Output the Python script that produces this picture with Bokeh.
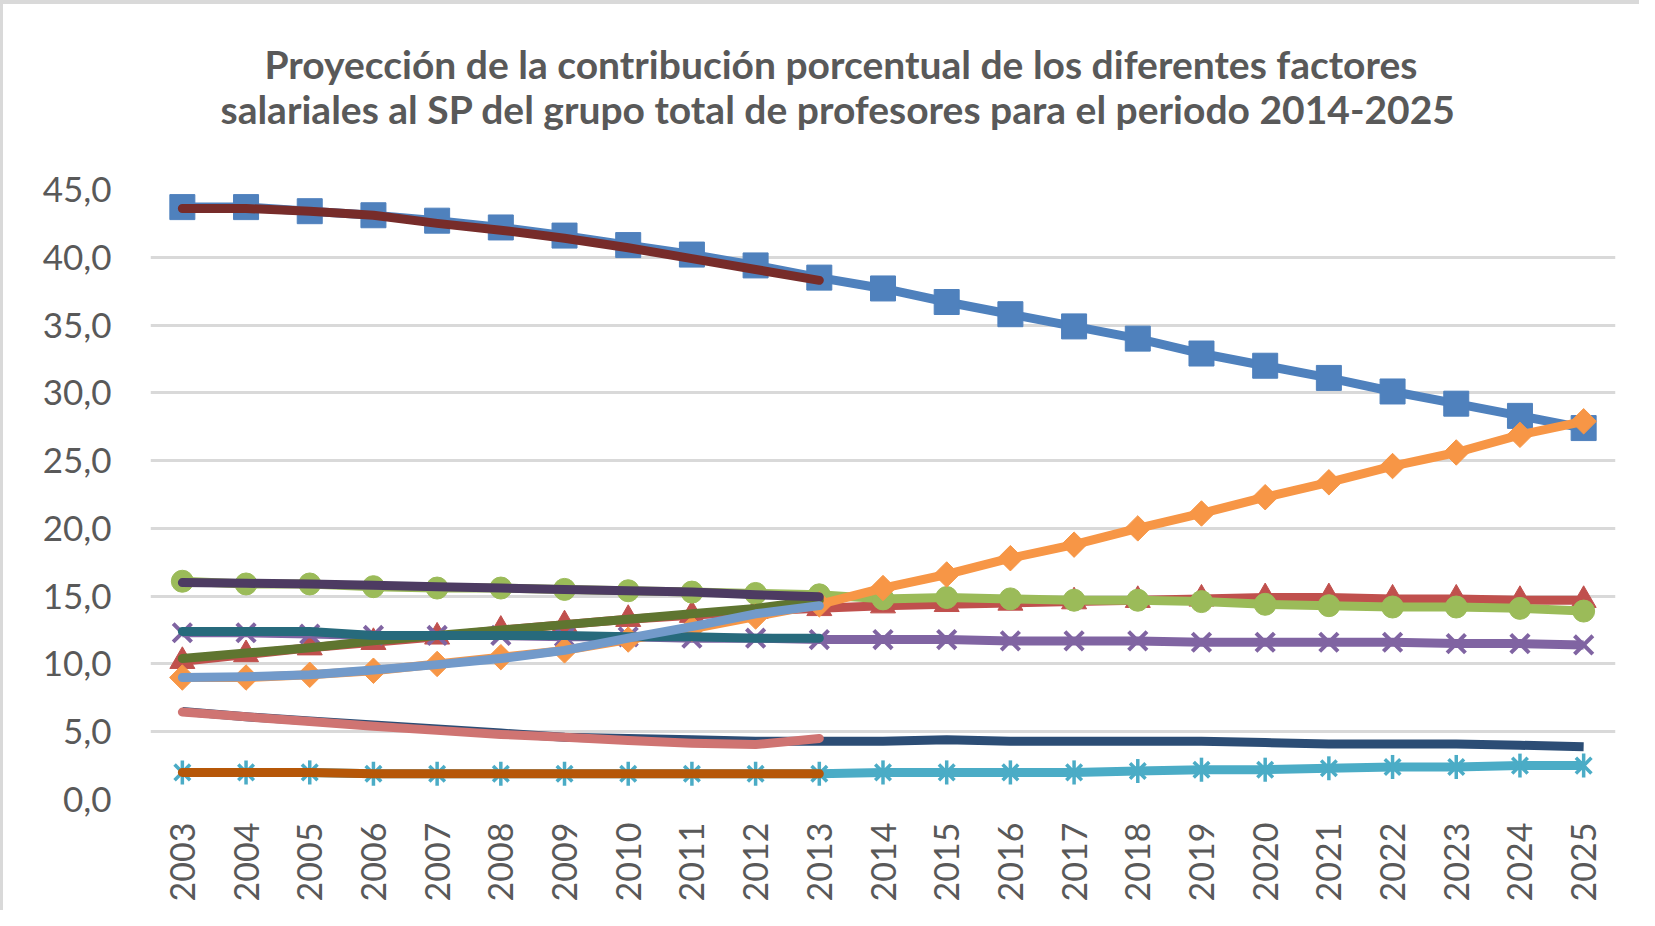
from math import pi
from bokeh.plotting import figure
from bokeh.models import FixedTicker, Title
from bokeh.embed import file_html
from bokeh.resources import INLINE

# ---------------- data ----------------
years = list(range(2003, 2026))
hist_years = list(range(2003, 2014))

y_ticks = [0, 5, 10, 15, 20, 25, 30, 35, 40, 45]
y_tick_labels = ["0,0", "5,0", "10,0", "15,0", "20,0", "25,0", "30,0", "35,0", "40,0", "45,0"]
x_tick_labels = [str(y) for y in years]

title_line1 = "Proyección de la contribución porcentual de los diferentes factores"
title_line2 = "salariales al SP del grupo total de profesores para el periodo 2014-2025"

# projected series (2003-2025)
proj_blue_sq = [43.7, 43.7, 43.4, 43.1, 42.7, 42.2, 41.6, 40.9, 40.2, 39.4, 38.5,
                37.7, 36.7, 35.8, 34.9, 34.0, 32.9, 32.0, 31.1, 30.1, 29.2, 28.3, 27.4]
proj_red_tri = [10.2, 10.7, 11.2, 11.6, 12.0, 12.5, 12.9, 13.3, 13.6, 13.9, 14.1,
                14.3, 14.4, 14.5, 14.6, 14.7, 14.8, 14.9, 14.9, 14.8, 14.8, 14.7, 14.7]
proj_green_circ = [16.1, 15.9, 15.9, 15.7, 15.6, 15.6, 15.5, 15.4, 15.3, 15.2, 15.1,
                   14.8, 14.9, 14.8, 14.7, 14.7, 14.6, 14.4, 14.3, 14.2, 14.2, 14.1, 13.9]
proj_purple_x = [12.3, 12.3, 12.2, 12.1, 12.1, 12.1, 12.0, 12.0, 11.9, 11.9, 11.8,
                 11.8, 11.8, 11.7, 11.7, 11.7, 11.6, 11.6, 11.6, 11.6, 11.5, 11.5, 11.4]
proj_cyan_star = [2.0, 2.0, 2.0, 1.9, 1.9, 1.9, 1.9, 1.9, 1.9, 1.9, 1.9,
                  2.0, 2.0, 2.0, 2.0, 2.1, 2.2, 2.2, 2.3, 2.4, 2.4, 2.5, 2.5]
proj_orange_dia = [9.0, 9.0, 9.2, 9.5, 10.0, 10.5, 11.0, 11.8, 12.6, 13.5, 14.4,
                   15.6, 16.6, 17.8, 18.8, 20.0, 21.1, 22.3, 23.4, 24.6, 25.6, 26.9, 27.9]
proj_navy = [6.5, 6.1, 5.8, 5.5, 5.2, 4.9, 4.6, 4.5, 4.4, 4.3, 4.3,
             4.3, 4.4, 4.3, 4.3, 4.3, 4.3, 4.2, 4.1, 4.1, 4.1, 4.0, 3.9]

# historical series (2003-2013)
hist_darkred = [43.6, 43.6, 43.4, 43.1, 42.5, 42.0, 41.4, 40.7, 39.9, 39.1, 38.3]
hist_olive = [10.4, 10.8, 11.2, 11.7, 12.1, 12.5, 12.9, 13.3, 13.7, 14.1, 14.7]
hist_darkpurple = [16.0, 15.95, 15.9, 15.8, 15.7, 15.6, 15.5, 15.4, 15.3, 15.1, 14.95]
hist_teal = [12.4, 12.4, 12.4, 12.1, 12.1, 12.1, 12.1, 12.0, 12.0, 11.9, 11.9]
hist_darkorange = [2.0, 2.0, 2.0, 1.9, 1.9, 1.9, 1.9, 1.9, 1.9, 1.9, 1.9]
hist_lightblue = [9.0, 9.05, 9.2, 9.55, 9.95, 10.4, 11.0, 11.9, 12.75, 13.7, 14.3]
hist_pink = [6.45, 6.1, 5.75, 5.4, 5.1, 4.8, 4.6, 4.35, 4.15, 4.05, 4.5]

# ---------------- figure ----------------
p = figure(width=1639, height=910, x_range=(2002.5, 2025.5), y_range=(0, 45),
           output_backend="svg", toolbar_location=None,
           min_border_left=147, min_border_right=27, min_border_top=185, min_border_bottom=115)
p.styles = {"border-top": "4px solid #D9D9D9", "border-left": "3px solid #D9D9D9"}
p.outline_line_color = None
p.background_fill_color = "white"
p.border_fill_color = "white"

LW = 9
# projection series with markers
p.line(years, proj_blue_sq, line_color="#4F81BD", line_width=LW, line_join="round")
p.scatter(years, proj_blue_sq, marker="square", size=25, fill_color="#4F81BD", line_color="#4F81BD")

p.line(years, proj_red_tri, line_color="#C0504D", line_width=LW, line_join="round")
p.scatter(years, proj_red_tri, marker="triangle", size=25, fill_color="#C0504D", line_color="#C0504D")

p.line(years, proj_green_circ, line_color="#9BBB59", line_width=LW, line_join="round")
p.scatter(years, proj_green_circ, marker="circle", size=22, fill_color="#9BBB59", line_color="#9BBB59")

p.line(years, proj_purple_x, line_color="#8064A2", line_width=LW, line_join="round")
p.scatter(years, proj_purple_x, marker="x", size=26, line_color="#8064A2", line_width=4)

p.line(years, proj_cyan_star, line_color="#4BACC6", line_width=LW, line_join="round")
p.scatter(years, proj_cyan_star, marker="x", size=22, line_color="#4BACC6", line_width=3.5)
p.scatter(years, proj_cyan_star, marker="dash", angle=pi / 2, size=24, line_color="#4BACC6", line_width=3.5)

p.line(years, proj_orange_dia, line_color="#F79646", line_width=LW, line_join="round")
p.scatter(years, proj_orange_dia, marker="square", angle=pi / 4, size=18, fill_color="#F79646", line_color="#F79646")

p.line(years, proj_navy, line_color="#2C4D75", line_width=LW, line_join="round")

# historical series (lines only)
for vals, col in [(hist_darkred, "#772C2A"), (hist_olive, "#5F7530"), (hist_darkpurple, "#4D3B62"),
                  (hist_teal, "#276A7C"), (hist_darkorange, "#B65708"), (hist_lightblue, "#729ACA"),
                  (hist_pink, "#CF7472")]:
    p.line(hist_years, vals, line_color=col, line_width=LW, line_join="round", line_cap="round")

# ---------------- axes ----------------
p.xgrid.grid_line_color = None
p.ygrid.grid_line_color = "#D9D9D9"
p.ygrid.grid_line_width = 3
p.ygrid.ticker = FixedTicker(ticks=y_ticks)

p.yaxis.ticker = FixedTicker(ticks=y_ticks)
p.yaxis.major_label_overrides = dict(zip(y_ticks, y_tick_labels))
p.xaxis.ticker = FixedTicker(ticks=years)
p.xaxis.major_label_overrides = dict(zip(years, x_tick_labels))
p.xaxis.major_label_orientation = pi / 2

for ax in (p.xaxis[0], p.yaxis[0]):
    ax.axis_line_color = None
    ax.major_tick_line_color = None
    ax.minor_tick_line_color = None
    ax.major_tick_out = 0
    ax.major_tick_in = 0
    ax.minor_tick_out = 0
    ax.minor_tick_in = 0
    ax.major_label_text_font = "Lato"
    ax.major_label_text_color = "#595959"
p.yaxis.major_label_standoff = 39
p.xaxis.major_label_standoff = 23
p.yaxis.major_label_text_font_size = "35px"
p.xaxis.major_label_text_font_size = "34px"

# ---------------- title: spacer + two lines stacked above the frame ----------------
common = dict(align="left", text_font="Lato", text_font_size="39px", text_font_style="bold",
              text_color="#595959")
p.add_layout(Title(text=" ", text_font_size="1px", standoff=55), "above")
p.add_layout(Title(text=title_line2, standoff=0, offset=70, **common), "above")
p.add_layout(Title(text=title_line1, standoff=-6, offset=114, **common), "above")

open("out.html", "w").write(file_html(p, INLINE))
